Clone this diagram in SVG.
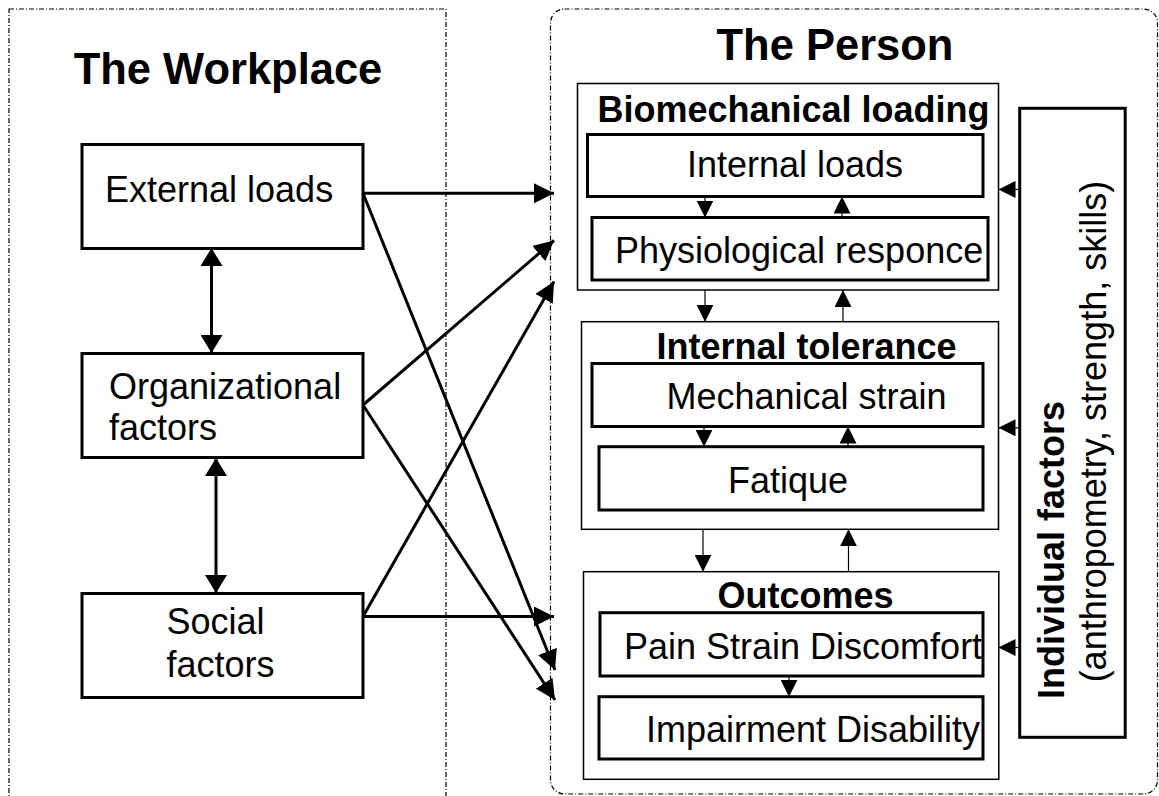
<svg xmlns="http://www.w3.org/2000/svg" width="1159" height="796" viewBox="0 0 1159 796">
<style>
  text { font-family: "Liberation Sans", Arial, sans-serif; fill: #000; }
  .t { font-size: 36px; }
  .b { font-size: 36px; font-weight: bold; }
  .title { font-size: 43.5px; font-weight: bold; }
  .thick { fill: #fff; stroke: #000; stroke-width: 3; }
  .thin { fill: #fff; stroke: #000; stroke-width: 1.5; }
  .frame { fill: none; stroke: #000; stroke-width: 1.2; stroke-dasharray: 5 2 1 2; }
  .big { fill: none; stroke: #000; stroke-width: 3; marker-end: url(#ah); }
  .bi { fill: none; stroke: #000; stroke-width: 3; marker-end: url(#ah2); marker-start: url(#ah2); }
  .sm { fill: none; stroke: #000; stroke-width: 1.2; marker-end: url(#as); }
</style>
<defs>
  <marker id="ah" markerUnits="userSpaceOnUse" markerWidth="20" markerHeight="20" refX="20" refY="10" orient="auto">
    <path d="M0,0 L20,10 L0,20 z" fill="#000"/>
  </marker>
  <marker id="ah2" markerUnits="userSpaceOnUse" markerWidth="18" markerHeight="22" refX="18" refY="11" orient="auto-start-reverse">
    <path d="M0,0 L18,11 L0,22 z" fill="#000"/>
  </marker>
  <marker id="as" markerUnits="userSpaceOnUse" markerWidth="17" markerHeight="17" refX="17" refY="8.5" orient="auto">
    <path d="M0,0 L17,8.5 L0,17 z" fill="#000"/>
  </marker>
</defs>
<rect width="1159" height="796" fill="#fff"/>

<g id="workplace">
  <rect class="frame" x="9" y="9" width="437" height="800"/>
  <text class="title" x="228" y="84" text-anchor="middle">The Workplace</text>
</g>
<g id="person">
  <rect class="frame" x="550.5" y="9" width="607" height="785" rx="14" ry="14"/>
  <text class="title" x="835" y="60" text-anchor="middle">The Person</text>
</g>

<g id="external-loads">
  <rect class="thick" x="82" y="144.5" width="281" height="104"/>
  <text class="t" x="105" y="202">External loads</text>
</g>
<g id="organizational-factors">
  <rect class="thick" x="82" y="353.5" width="281" height="104"/>
  <text class="t" x="109" y="399">Organizational</text>
  <text class="t" x="109" y="440">factors</text>
</g>
<g id="social-factors">
  <rect class="thick" x="82" y="593.5" width="281" height="104"/>
  <text class="t" x="166.5" y="634">Social</text>
  <text class="t" x="166.5" y="677">factors</text>
</g>

<g id="biomechanical-loading">
  <rect class="thin" x="577.5" y="83.5" width="421" height="206.5"/>
  <text class="b" x="793.5" y="121.7" text-anchor="middle">Biomechanical loading</text>
</g>
<g id="internal-loads">
  <rect class="thick" x="587.5" y="134.5" width="395.5" height="62"/>
  <text class="t" x="795" y="176.7" text-anchor="middle">Internal loads</text>
</g>
<g id="physiological-responce">
  <rect class="thick" x="592" y="217.5" width="396" height="62.5"/>
  <text class="t" x="615" y="263.3">Physiological responce</text>
</g>

<g id="internal-tolerance">
  <rect class="thin" x="581.5" y="321.7" width="417" height="207.6"/>
  <text class="b" x="806.5" y="359.3" text-anchor="middle">Internal tolerance</text>
</g>
<g id="mechanical-strain">
  <rect class="thick" x="592" y="363.5" width="391" height="63"/>
  <text class="t" x="806.5" y="409.3" text-anchor="middle">Mechanical strain</text>
</g>
<g id="fatique">
  <rect class="thick" x="599" y="446.7" width="384" height="63.3"/>
  <text class="t" x="788" y="492.7" text-anchor="middle">Fatique</text>
</g>

<g id="outcomes">
  <rect class="thin" x="583.5" y="571.7" width="415.3" height="207.6"/>
  <text class="b" x="805.5" y="608.3" text-anchor="middle">Outcomes</text>
</g>
<g id="pain-strain-discomfort">
  <rect class="thick" x="600" y="612.7" width="383" height="63.3"/>
  <text class="t" x="624" y="659.3">Pain Strain Discomfort</text>
</g>
<g id="impairment-disability">
  <rect class="thick" x="599" y="696.7" width="384" height="62.3"/>
  <text class="t" x="646" y="741.7">Impairment Disability</text>
</g>

<g id="individual-factors">
  <rect class="thick" x="1019.7" y="108.3" width="105.5" height="629"/>
  <text class="b" x="1064" y="550" text-anchor="middle" transform="rotate(-90 1064 550)">Individual factors</text>
  <text class="t" x="1106.5" y="431.6" text-anchor="middle" transform="rotate(-90 1106.5 431.6)">(anthropometry, strength, skills)</text>
</g>

<g id="connectors">
  <line class="bi" x1="211.5" y1="248" x2="211.5" y2="353"/>
  <line class="bi" x1="216" y1="458" x2="216" y2="593"/>
  <line class="big" x1="363" y1="193.3" x2="554" y2="193.3"/>
  <line class="big" x1="363" y1="193.3" x2="555" y2="670"/>
  <line class="big" x1="363" y1="405" x2="554" y2="240.5"/>
  <line class="big" x1="363" y1="405" x2="555" y2="700"/>
  <line class="big" x1="363" y1="616.5" x2="554" y2="281.5"/>
  <line class="big" x1="363" y1="616.5" x2="554" y2="616.5"/>
  <line class="sm" x1="705" y1="196.5" x2="705" y2="217.5"/>
  <line class="sm" x1="842" y1="217.5" x2="842" y2="196.5"/>
  <line class="sm" x1="705" y1="290" x2="705" y2="321.7"/>
  <line class="sm" x1="843" y1="321.7" x2="843" y2="290"/>
  <line class="sm" x1="704" y1="426.5" x2="704" y2="446.7"/>
  <line class="sm" x1="848" y1="446.7" x2="848" y2="426.5"/>
  <line class="sm" x1="703" y1="529.3" x2="703" y2="571.7"/>
  <line class="sm" x1="848.5" y1="571.7" x2="848.5" y2="529.3"/>
  <line class="sm" x1="789" y1="676" x2="789" y2="696.7"/>
  <line class="sm" x1="1019.7" y1="189.4" x2="998.5" y2="189.4"/>
  <line class="sm" x1="1019.7" y1="427.8" x2="998.5" y2="427.8"/>
  <line class="sm" x1="1019.7" y1="647.5" x2="998.5" y2="647.5"/>
</g>
</svg>
